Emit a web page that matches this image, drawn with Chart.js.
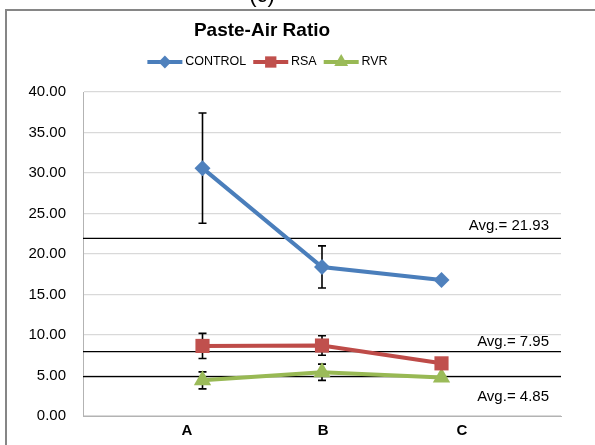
<!DOCTYPE html>
<html>
<head>
<meta charset="utf-8">
<title>Paste-Air Ratio</title>
<script src="https://cdn.jsdelivr.net/npm/chart.js@4.4.1/dist/chart.umd.min.js"></script>
<style>
  html, body { margin: 0; padding: 0; background: #fff; }
  #wrap { width: 595px; height: 445px; position: relative; }
</style>
</head>
<body>
<div id="wrap"><canvas id="chart" width="595" height="445"></canvas></div>
<script>
  // values
  const categories = ["A", "B", "C"];
  const controlValues = [30.6, 18.4, 16.8];
  const controlErrors = [6.8, 2.6, 0];
  const rsaValues = [8.65, 8.7, 6.5];
  const rsaErrors = [1.55, 1.2, 0];
  const rvrValues = [4.4, 5.4, 4.75];
  const rvrErrors = [1.05, 1.0, 0];
  const averageValues = [21.93, 7.95, 4.85];
  const averageLabels = ["Avg.= 21.93", "Avg.= 7.95", "Avg.= 4.85"];
  const yTickValues = [0, 5, 10, 15, 20, 25, 30, 35, 40];

  const FONT = "'Liberation Sans', Arial, sans-serif";

  function points(values) {
    return values.map((v, i) => ({ x: i + 1, y: v }));
  }

  const seriesDatasets = [
    { label: "CONTROL", data: points(controlValues), errors: controlErrors,
      borderColor: "#4A7EBB", backgroundColor: "#4F81BD", pointStyle: "rectRot", pointRadius: 8 },
    { label: "RSA", data: points(rsaValues), errors: rsaErrors,
      borderColor: "#BE4B48", backgroundColor: "#C0504D", pointStyle: "rect", pointRadius: 10 },
    { label: "RVR", data: points(rvrValues), errors: rvrErrors,
      borderColor: "#98B954", backgroundColor: "#9BBB59", pointStyle: "triangle", pointRadius: 10 }
  ].map((ds) => ({
    ...ds,
    borderWidth: 4,
    pointBorderWidth: 0,
    pointHoverRadius: ds.pointRadius,
    tension: 0
  }));

  // horizontal average lines, drawn under the series
  const averageDatasets = averageValues.map((avg, i) => ({
    label: averageLabels[i],
    isAverage: true,
    data: [{ x: 0, y: avg }, { x: 4, y: avg }],
    borderColor: "#000",
    borderWidth: 1.2,
    pointRadius: 0,
    pointHoverRadius: 0
  }));

  // frame, the cut "(c)" caption, error bars, avg labels, legend samples
  const decorPlugin = {
    id: "decor",
    beforeDraw(chart) {
      const ctx = chart.ctx;
      ctx.save();
      ctx.fillStyle = "#fff";
      ctx.fillRect(0, 0, chart.width, chart.height);
      ctx.fillStyle = "#000";
      ctx.font = "22px " + FONT;
      ctx.textAlign = "center";
      ctx.textBaseline = "alphabetic";
      ctx.fillText("(c)", 262, 2);
      ctx.strokeStyle = "#868686";
      ctx.lineWidth = 2;
      ctx.beginPath();
      ctx.moveTo(6, chart.height);
      ctx.lineTo(6, 10);
      ctx.lineTo(chart.width, 10);
      ctx.stroke();
      ctx.restore();
    },
    afterLayout(chart) {
      // title and legend are centred on the wider original frame
      chart.titleBlock.left = 0;
      chart.titleBlock.right = 524;
      chart.legend.left = 0;
      chart.legend.right = 530;
    },
    beforeDatasetDraw(chart, args) {
      const ds = chart.data.datasets[args.index];
      if (!ds.errors) return;
      const xs = chart.scales.x;
      const ys = chart.scales.y;
      const ctx = chart.ctx;
      ctx.save();
      ctx.strokeStyle = "#000";
      ctx.lineWidth = 1.6;
      ds.data.forEach((p, i) => {
        const e = ds.errors[i];
        if (!e) return;
        const x = xs.getPixelForValue(p.x);
        const y1 = ys.getPixelForValue(p.y + e);
        const y2 = ys.getPixelForValue(p.y - e);
        ctx.beginPath();
        ctx.moveTo(x, y1);
        ctx.lineTo(x, y2);
        ctx.moveTo(x - 4, y1);
        ctx.lineTo(x + 4, y1);
        ctx.moveTo(x - 4, y2);
        ctx.lineTo(x + 4, y2);
        ctx.stroke();
      });
      ctx.restore();
    },
    afterDraw(chart) {
      const ctx = chart.ctx;
      const ys = chart.scales.y;
      const area = chart.chartArea;
      const offsets = [-13, -10, 20];
      ctx.save();
      ctx.fillStyle = "#000";
      ctx.font = "15px " + FONT;
      ctx.textAlign = "right";
      ctx.textBaseline = "middle";
      averageValues.forEach((avg, i) => {
        ctx.fillText(averageLabels[i], area.right - 12, ys.getPixelForValue(avg) + offsets[i]);
      });

      // legend samples: line with marker
      const legend = chart.legend;
      legend.legendItems.forEach((item, i) => {
        const box = legend.legendHitBoxes[i];
        const ds = chart.data.datasets[item.datasetIndex];
        const cy = box.top + box.height / 2;
        const x0 = box.left + 5;
        const x1 = x0 + 35;
        ctx.strokeStyle = ds.borderColor;
        ctx.lineWidth = ds.borderWidth;
        ctx.beginPath();
        ctx.moveTo(x0, cy);
        ctx.lineTo(x1, cy);
        ctx.stroke();
        ctx.fillStyle = ds.backgroundColor;
        Chart.helpers.drawPoint(ctx, {
          pointStyle: ds.pointStyle,
          radius: ds.pointRadius * 0.8,
          rotation: 0,
          borderWidth: 0
        }, (x0 + x1) / 2, cy);
      });
      ctx.restore();
    }
  };

  new Chart(document.getElementById("chart"), {
    type: "line",
    data: { datasets: [...seriesDatasets, ...averageDatasets] },
    plugins: [decorPlugin],
    options: {
      responsive: false,
      animation: false,
      events: [],
      layout: { padding: { left: 8, right: 34, top: 10, bottom: 0 } },
      plugins: {
        tooltip: { enabled: false },
        title: {
          display: true,
          text: "Paste-Air Ratio",
          color: "#000",
          font: { family: FONT, size: 19, weight: "bold", lineHeight: 1 },
          padding: { top: 11, bottom: 0 }
        },
        legend: {
          display: true,
          labels: {
            color: "#000",
            font: { family: FONT, size: 12.5 },
            boxWidth: 36.5,
            boxHeight: 40,
            padding: 2,
            generateLabels(chart) {
              return chart.data.datasets
                .map((ds, i) => ({ ds, i }))
                .filter(({ ds }) => !ds.isAverage)
                .map(({ ds, i }) => ({
                  text: ds.label,
                  fillStyle: "rgba(0,0,0,0)",
                  strokeStyle: "rgba(0,0,0,0)",
                  lineWidth: 0,
                  fontColor: "#000",
                  hidden: false,
                  datasetIndex: i
                }));
            }
          }
        }
      },
      scales: {
        x: {
          type: "linear",
          min: 0,
          max: 4,
          grid: { display: false, drawTicks: false },
          border: { display: true, color: "#B3B3B3", width: 1 },
          afterBuildTicks(scale) {
            // Excel put the category labels slightly off the points
            scale.ticks = [0.87, 2.01, 3.17].map((v) => ({ value: v }));
          },
          afterFit(scale) { scale.height = 29; },
          ticks: {
            autoSkip: false,
            maxRotation: 0,
            padding: 6,
            color: "#000",
            font: { family: FONT, size: 15, weight: "bold" },
            callback: (value, index) => categories[index]
          }
        },
        y: {
          min: 0,
          max: 40,
          grid: { color: "#D9D9D9", lineWidth: 1.2, drawTicks: false },
          border: { display: true, color: "#B3B3B3", width: 1 },
          afterBuildTicks(scale) {
            scale.ticks = yTickValues.map((v) => ({ value: v }));
          },
          afterFit(scale) { scale.width = 75; },
          ticks: {
            padding: 17,
            color: "#000",
            font: { family: FONT, size: 15 },
            callback: (value) => Number(value).toFixed(2)
          }
        }
      }
    }
  });
</script>
</body>
</html>
